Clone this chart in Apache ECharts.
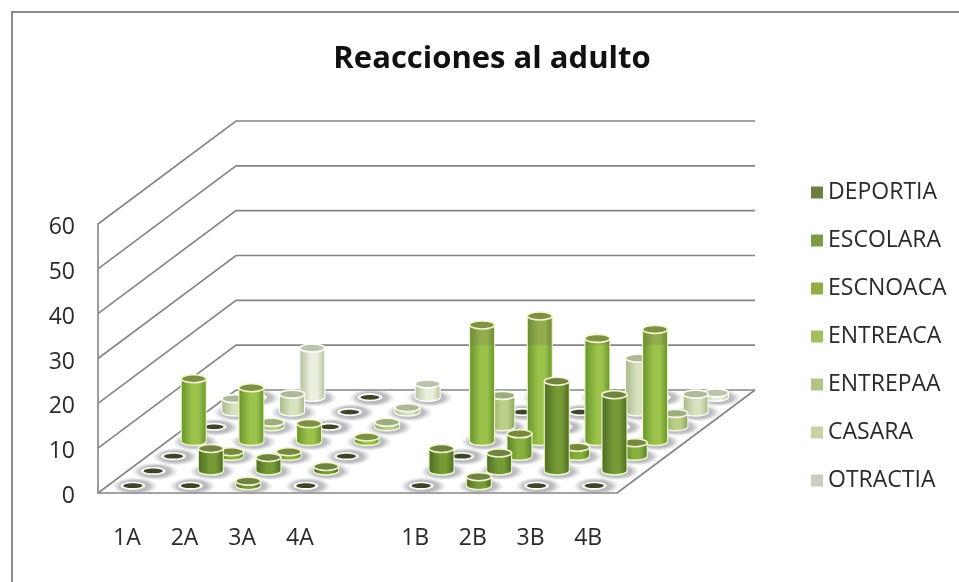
<!DOCTYPE html>
<html><head><meta charset="utf-8">
<style>html,body{margin:0;padding:0;background:#fff}#c{width:959px;height:582px;filter:blur(0.45px)}</style>
<script src="https://cdn.jsdelivr.net/npm/echarts@6/dist/echarts.min.js"></script></head>
<body><div id="c"></div>
<script>
const categories = ['1A','2A','3A','4A','','1B','2B','3B','4B'];
const yTicks = [0,10,20,30,40,50,60];
const DEPORTIA = [0,0,1,0,null,0,2,0,0];
const ESCOLARA = [0,5,3,1,null,5,4,20,17];
const ESCNOACA = [0,1,1,0,null,0,5,2,3];
const ENTREACA = [14,12,4,1,null,26,28,23,25];
const ENTREPAA = [0,1,0,1,null,7,0,0,3];
const CASARA = [3,4,0,1,null,0,0,12,4];
const OTRACTIA = [0,11,0,3,null,0,0,0,1];
const seriesNames = ['DEPORTIA','ESCOLARA','ESCNOACA','ENTREACA','ENTREPAA','CASARA','OTRACTIA'];
const seriesValues = [DEPORTIA,ESCOLARA,ESCNOACA,ENTREACA,ENTREPAA,CASARA,OTRACTIA];
const legendColors = ['#6b7f3f','#7f9a47','#93ad45','#a5bf5c','#b0c584','#c8d3a5','#c9cfc0'];
const bodyEdge   = ['#4f6e26','#4d6c24','#5a8228','#68952c','#8ba45f','#a9b88a','#b6c2a2'];
const bodyMid    = ['#7a9c38','#769a36','#88b03e','#9bc24a','#bad088','#d8e2c0','#ebf0de'];
const topFill    = ['#6f8440','#6f8440','#77893f','#7f9045','#9dae7e','#aeb99a','#bcc5ac'];
const rimColor   = ['#f2f7cf','#f2f7cf','#f2f7cf','#f2f7cf','#f6f9e6','#fbfcf4','#ffffff'];

const depthX = 138, depthY = 103, rows = seriesNames.length;
const stepX = 20.3, startX = 6;
const R = 12.5, RY = 4;
const font = '"Open Sans","Noto Sans",sans-serif';
const haloGrad = new echarts.graphic.RadialGradient(0.5,0.5,0.5,[
  {offset:0,color:'rgba(110,115,120,0.7)'},{offset:0.65,color:'rgba(140,142,146,0.55)'},{offset:1,color:'rgba(185,187,190,0)'}]);

function wallItem(params, api){
  const v = api.value(0);
  const band = api.size([1,0])[0];
  const y = api.coord([0,v])[1];
  const l = api.coord([0,v])[0]-band/2;
  const r = api.coord([categories.length-1,v])[0]+band/2;
  const st = {stroke:'#858585',lineWidth:1.6,fill:null};
  const children = [{type:'polyline',shape:{points:[[l,y],[l+depthX,y-depthY],[r+depthX,y-depthY]]},style:st}];
  if(v===0) children.push({type:'line',shape:{x1:r,y1:y,x2:r+depthX,y2:y-depthY},style:st});
  return {type:'group',children};
}
function barItem(row){
  return function(params, api){
    const v = api.value(1);
    if(v===null||v===undefined||isNaN(v)) return {type:'group',children:[]};
    const base0 = api.coord([api.value(0),0]);
    const top0 = api.coord([api.value(0),v]);
    const ox = startX+row*stepX, oy = (row+0.5)*depthY/rows;
    const x = base0[0]+ox, by = base0[1]-oy, ty = top0[1]-oy;
    const kids = [];
    kids.push({type:'circle',x:x+2,y:by+0.5,scaleX:2.6,scaleY:1,shape:{cx:0,cy:0,r:9},style:{fill:haloGrad}});
    if(v===0){
      kids.push({type:'ellipse',shape:{cx:x,cy:by,rx:R,ry:RY},style:{fill:'#ffffff'}});
      kids.push({type:'ellipse',shape:{cx:x,cy:by,rx:R-3,ry:2.4},style:{fill:'#3d4526'}});
      return {type:'group',children:kids};
    }
    const grad = new echarts.graphic.LinearGradient(0,0,1,0,[{offset:0,color:bodyEdge[row]},{offset:0.45,color:bodyMid[row]},{offset:0.7,color:bodyMid[row]},{offset:1,color:bodyEdge[row]}]);
    kids.push({type:'ellipse',shape:{cx:x,cy:by,rx:R,ry:RY},style:{fill:grad,stroke:rimColor[row],lineWidth:1.4}});
    kids.push({type:'rect',shape:{x:x-R,y:ty,width:2*R,height:by-ty},style:{fill:grad}});
    const wallY = api.coord([0,yTicks[1]])[1]-depthY;
    if(ty<wallY) kids.push({type:'rect',shape:{x:x-R,y:ty,width:2*R,height:wallY-ty},style:{fill:'rgba(125,115,85,0.28)'}});
    kids.push({type:'line',shape:{x1:x-R,y1:ty,x2:x-R,y2:by},style:{stroke:rimColor[row],lineWidth:1.1}});
    kids.push({type:'line',shape:{x1:x+R,y1:ty,x2:x+R,y2:by},style:{stroke:rimColor[row],lineWidth:1.1}});
    kids.push({type:'ellipse',shape:{cx:x,cy:ty,rx:R,ry:RY},style:{fill:topFill[row],stroke:rimColor[row],lineWidth:1.6}});
    return {type:'group',children:kids};
  };
}
const series = [{type:'custom',name:'walls',silent:true,renderItem:wallItem,data:yTicks.map(v=>[v]),encode:{y:0},z:1,clip:false}];
for(let i=rows-1;i>=0;i--){
  series.push({type:'custom',name:seriesNames[i],itemStyle:{color:legendColors[i]},renderItem:barItem(i),clip:false,z:2,
    encode:{x:0,y:1},data:seriesValues[i].map((v,k)=>[k,v])});
}
const chart = echarts.init(document.getElementById('c'),null,{renderer:'canvas'});
chart.setOption({
  animation:false,
  backgroundColor:'#ffffff',
  title:{text:'Reacciones al adulto',left:487,top:39,textAlign:'center',textStyle:{fontFamily:font,fontSize:31,fontWeight:'bold',color:'#111'}},
  legend:{show:true,orient:'vertical',left:806,top:176,itemWidth:12,itemHeight:12,itemGap:25,selectedMode:false,icon:'rect',data:seriesNames,
    textStyle:{fontFamily:font,fontSize:23,color:'#2a2a2a',padding:[2,0,0,0]}},
  grid:{left:98,right:342,top:224,bottom:89},
  xAxis:{type:'category',data:categories,boundaryGap:true,axisLine:{lineStyle:{color:'#858585',width:1.6}},axisTick:{show:false},
    axisLabel:{interval:0,margin:34,fontFamily:font,fontSize:23,color:'#2a2a2a',hideOverlap:false},splitLine:{show:false}},
  yAxis:{type:'value',min:0,max:60,interval:10,axisLine:{show:true,lineStyle:{color:'#858585',width:1.6}},axisTick:{show:false},
    axisLabel:{margin:23,formatter:'{a|{value}}',rich:{a:{fontFamily:font,fontSize:23,color:'#2a2a2a',padding:[7,0,0,0]}}},splitLine:{show:false}},
  graphic:[{type:'polyline',shape:{points:[[12,582],[12,12],[959,12]]},style:{stroke:'#8a8a8a',lineWidth:2,fill:null},silent:true}],
  series
});
</script></body></html>
